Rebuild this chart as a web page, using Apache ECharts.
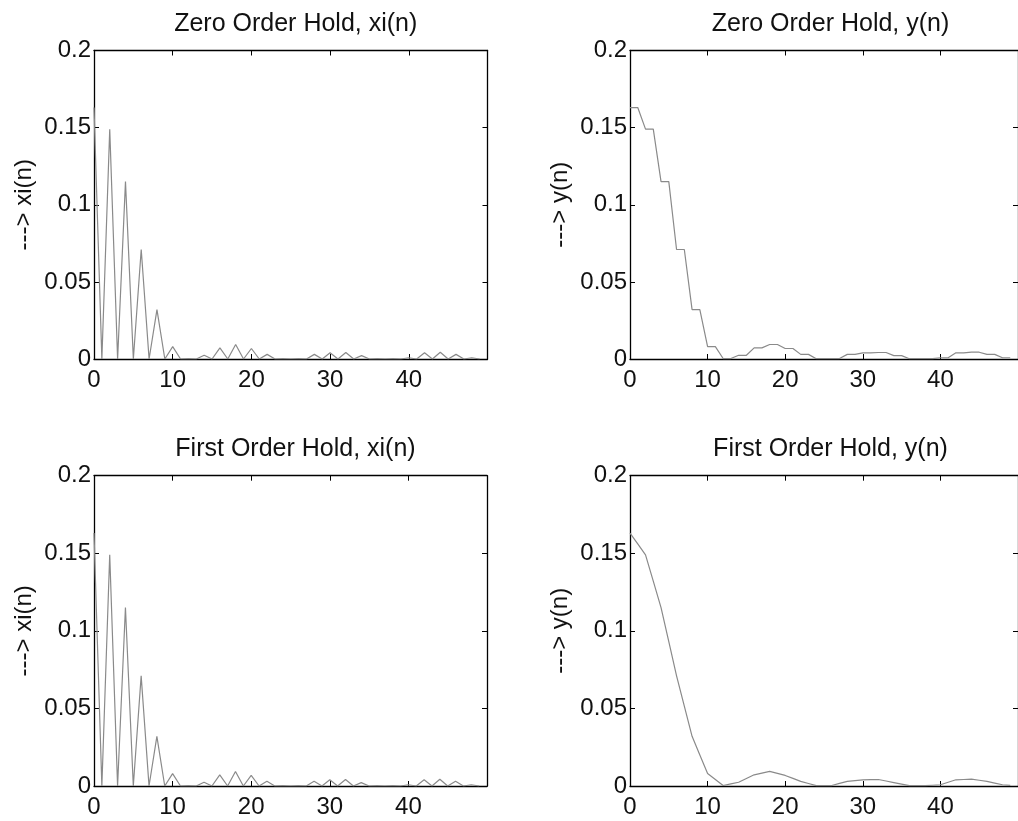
<!DOCTYPE html>
<html>
<head>
<meta charset="utf-8">
<script src="https://cdn.jsdelivr.net/npm/echarts@6/dist/echarts.min.js"></script>
<style>
html,body{margin:0;padding:0;background:#fff;}
#c{width:1018px;height:821px;}
</style>
</head>
<body>
<div id="c"></div>
<script>
// sample index n
const n = [0,1,2,3,4,5,6,7,8,9,10,11,12,13,14,15,16,17,18,19,20,21,22,23,24,25,26,27,28,29,30,31,32,33,34,35,36,37,38,39,40,41,42,43,44,45,46,47,48,49];

// Zero order hold: interpolated input xi(n)
const zohXi = [0.163,0,0.149,0,0.115,0,0.071,0,0.032,0,0.008,0,0.0003,0,0.0024,0,0.0072,0,0.0094,0,0.0068,0,0.0030,0,0.0002,0,0.0003,0,0.0030,0,0.0040,0,0.0042,0,0.0022,0,0.0002,0,0.0002,0,0.0008,0,0.0040,0,0.0044,0,0.0030,0,0.0008,0];

// Zero order hold: output y(n)
const zohY = [0.163,0.163,0.149,0.149,0.115,0.115,0.071,0.071,0.032,0.032,0.008,0.008,0.0003,0.0003,0.0024,0.0024,0.0072,0.0072,0.0094,0.0094,0.0068,0.0068,0.0030,0.0030,0.0002,0.0002,0.0003,0.0003,0.0030,0.0030,0.0040,0.0040,0.0042,0.0042,0.0022,0.0022,0.0002,0.0002,0.0002,0.0002,0.0008,0.0008,0.0040,0.0040,0.0044,0.0044,0.0030,0.0030,0.0008,0.0008];

// First order hold: interpolated input xi(n)
const fohXi = [0.163,0,0.149,0,0.115,0,0.071,0,0.032,0,0.008,0,0.0003,0,0.0024,0,0.0072,0,0.0094,0,0.0068,0,0.0030,0,0.0002,0,0.0003,0,0.0030,0,0.0040,0,0.0042,0,0.0022,0,0.0002,0,0.0002,0,0.0008,0,0.0040,0,0.0044,0,0.0030,0,0.0008,0];

// First order hold: output y(n)
const fohY = [0.163,0.156,0.149,0.132,0.115,0.093,0.071,0.0515,0.032,0.020,0.008,0.0042,0.0003,0.0014,0.0024,0.0048,0.0072,0.0083,0.0094,0.0081,0.0068,0.0049,0.0030,0.0016,0.0002,0.0003,0.0003,0.0017,0.0030,0.0035,0.0040,0.0041,0.0042,0.0032,0.0022,0.0012,0.0002,0.0002,0.0002,0.0005,0.0008,0.0024,0.0040,0.0042,0.0044,0.0037,0.0030,0.0019,0.0008,0.0004];

const titles = ['Zero Order Hold, xi(n)','Zero Order Hold, y(n)','First Order Hold, xi(n)','First Order Hold, y(n)'];
const yNames = ['---> xi(n)','---> y(n)','---> xi(n)','---> y(n)'];
const xTicks = [0,10,20,30,40];
const yTicks = [0,0.05,0.1,0.15,0.2];
const seriesData = [zohXi, zohY, fohXi, fohY];

const FONT = 'Liberation Sans, Arial, Helvetica, sans-serif';
const grids = [
  {left:94, top:50.5, width:393.5, height:308.5},
  {left:630, top:50.5, width:391, height:308.5},
  {left:94, top:475.7, width:393, height:310.3},
  {left:630, top:475.7, width:391, height:310.3}
];

const xAxes = [], yAxes = [], series = [], title = [];
grids.forEach((g, i) => {
  const tickStyle = {show:true, inside:true, length:5, lineStyle:{color:'#000', width:1}};
  const lineStyle = {show:true, onZero:false, lineStyle:{color:'#000', width:1.3}};
  xAxes.push({
    gridIndex:i, type:'value', min:0, max:50, interval:10, position:'bottom',
    axisLine:lineStyle, axisTick:tickStyle, splitLine:{show:false},
    axisLabel:{show:true, margin:9, fontSize:24, color:'#111', fontFamily:FONT, showMaxLabel:false,
      formatter: v => (xTicks.indexOf(v) >= 0 ? String(v) : '')}
  });
  xAxes.push({
    gridIndex:i, type:'value', min:0, max:50, interval:10, position:'top',
    axisLine:lineStyle, axisTick:tickStyle, splitLine:{show:false}, axisLabel:{show:false}
  });
  yAxes.push({
    gridIndex:i, type:'value', min:0, max:0.2, interval:0.05, position:'left',
    axisLine:lineStyle, axisTick:tickStyle, splitLine:{show:false},
    axisLabel:{show:true, margin:3, fontSize:24, color:'#111', fontFamily:FONT,
      formatter: v => { const t = yTicks.find(k => Math.abs(k - v) < 1e-9); return t === undefined ? '' : String(t); }},
    name: yNames[i], nameLocation:'middle', nameRotate:90, nameGap:58,
    nameTextStyle:{fontSize:24, color:'#111', fontFamily:FONT}
  });
  yAxes.push({
    gridIndex:i, type:'value', min:0, max:0.2, interval:0.05, position:'right',
    axisLine:lineStyle, axisTick:tickStyle, splitLine:{show:false}, axisLabel:{show:false}
  });
  const data = n.map((x, k) => [x, seriesData[i][k]]);
  series.push({
    type:'line', xAxisIndex:2*i, yAxisIndex:2*i, data:data, symbol:'none',
    lineStyle:{color:'#8a8a8a', width:1.2}, animation:false, z:1
  });
  title.push({
    text:titles[i], left:g.left + g.width/2, top:g.top - 44, textAlign:'center',
    textStyle:{fontSize:25, fontWeight:'normal', color:'#111', fontFamily:FONT}
  });
});

const chart = echarts.init(document.getElementById('c'), null, {renderer:'canvas'});
chart.setOption({
  backgroundColor:'#fff',
  animation:false,
  title:title,
  grid:grids,
  xAxis:xAxes,
  yAxis:yAxes,
  series:series
});
</script>
</body>
</html>
